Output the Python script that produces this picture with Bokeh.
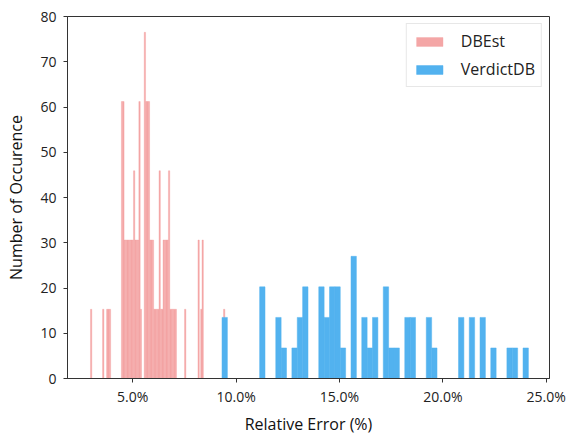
from bokeh.plotting import figure
from bokeh.models import Range1d, FixedTicker, PrintfTickFormatter, Legend, LegendItem, ColumnDataSource
from bokeh.embed import file_html
from bokeh.resources import INLINE

# ---- data ----
series_names = ["DBEst", "VerdictDB"]

dbest_error = [2.989, 3.574, 3.769, 3.834, 3.899, 4.484, 4.549, 4.614, 4.679, 4.744,
               4.809, 4.874, 4.939, 5.004, 5.069, 5.134, 5.199, 5.264, 5.329, 5.394,
               5.589, 5.654, 5.719, 5.784, 5.849, 5.914, 5.979, 6.044, 6.109, 6.174,
               6.239, 6.304, 6.369, 6.434, 6.499, 6.564, 6.629, 6.694, 6.759, 6.824,
               6.889, 6.954, 7.019, 7.084, 7.539, 8.189, 8.319, 8.384, 9.424]
dbest_count = [15.3, 15.3, 15.3, 15.3, 15.3, 61.2, 61.2, 30.6, 30.6, 30.6,
               30.6, 30.6, 30.6, 30.6, 45.9, 30.6, 30.6, 30.6, 61.2, 15.3,
               76.5, 61.2, 61.2, 61.2, 30.6, 30.6, 30.6, 15.3, 15.3, 15.3,
               15.3, 45.9, 15.3, 15.3, 30.6, 30.6, 30.6, 30.6, 45.9, 15.3,
               15.3, 15.3, 15.3, 15.3, 15.3, 30.6, 15.3, 30.6, 15.3]
dbest_bin = 0.065

verdict_error = [9.449, 11.269, 12.049, 12.309, 12.829, 13.089, 13.349, 14.129, 14.389, 14.649,
                 14.909, 15.169, 15.689, 16.209, 16.469, 16.729, 17.249, 17.509, 17.769, 18.289,
                 18.549, 19.329, 19.589, 20.889, 21.409, 21.929, 22.449, 23.229, 23.489, 24.009]
verdict_count = [13.5, 20.25, 13.5, 6.75, 6.75, 13.5, 20.25, 20.25, 13.5, 20.25,
                 20.25, 6.75, 27.0, 13.5, 6.75, 13.5, 20.25, 6.75, 6.75, 13.5,
                 13.5, 13.5, 6.75, 13.5, 13.5, 13.5, 6.75, 6.75, 6.75, 6.75]
verdict_bin = 0.26

x_ticks = [5, 10, 15, 20, 25]
y_ticks = [0, 10, 20, 30, 40, 50, 60, 70, 80]

FONT = "Open Sans"
PINK = "#F4A6A6"
BLUE = "#52B2EF"

p = figure(width=572, height=437, output_backend="svg", toolbar_location=None,
           x_range=Range1d(1.845, 25.16), y_range=Range1d(0, 80),
           min_border_left=67, min_border_right=23, min_border_top=16, min_border_bottom=49)
p.background_fill_color = "white"
p.border_fill_color = "white"
p.outline_line_color = "#333333"
p.outline_line_width = 1
p.xgrid.visible = False
p.ygrid.visible = False

src_d = ColumnDataSource(dict(x=dbest_error, top=dbest_count))
src_v = ColumnDataSource(dict(x=verdict_error, top=verdict_count))
r_d = p.vbar(x="x", top="top", bottom=0, width=dbest_bin, source=src_d,
             fill_color=PINK, line_color=PINK, line_width=0.4)
r_v = p.vbar(x="x", top="top", bottom=0, width=verdict_bin, source=src_v,
             fill_color=BLUE, line_color=BLUE, line_width=0.5)

for ax in (p.xaxis[0], p.yaxis[0]):
    ax.axis_line_color = "#333333"
    ax.major_tick_line_color = "#333333"
    ax.major_tick_out = 4
    ax.major_tick_in = 0
    ax.minor_tick_line_color = None
    ax.major_label_text_font = FONT
    ax.major_label_text_font_size = "14px"
    ax.major_label_text_color = "#222222"
    ax.axis_label_text_font = FONT
    ax.axis_label_text_font_size = "16px"
    ax.axis_label_text_font_style = "normal"
    ax.axis_label_text_color = "#111111"

p.xaxis.ticker = FixedTicker(ticks=x_ticks)
p.xaxis.formatter = PrintfTickFormatter(format="%.1f%%")
p.xaxis.axis_label = "Relative Error (%)"
p.xaxis.major_label_standoff = 4
p.xaxis.axis_label_standoff = 4

p.yaxis.ticker = FixedTicker(ticks=y_ticks)
p.yaxis.axis_label = "Number of Occurence"
p.yaxis.major_label_standoff = 7
p.yaxis.axis_label_standoff = 10

legend = Legend(items=[LegendItem(label=series_names[0], renderers=[r_d]),
                       LegendItem(label=series_names[1], renderers=[r_v])],
                location="top_right")
legend.margin = 7
legend.padding = 6
legend.spacing = 6
legend.glyph_width = 33
legend.glyph_height = 11
legend.label_height = 20
legend.label_standoff = 15
legend.label_text_font = FONT
legend.label_text_font_size = "16px"
legend.label_text_color = "#222222"
legend.border_line_color = "#d0d0d0"
legend.border_line_width = 1
legend.background_fill_color = "white"
legend.background_fill_alpha = 0.8
p.add_layout(legend)

open("out.html", "w").write(file_html(p, INLINE))
